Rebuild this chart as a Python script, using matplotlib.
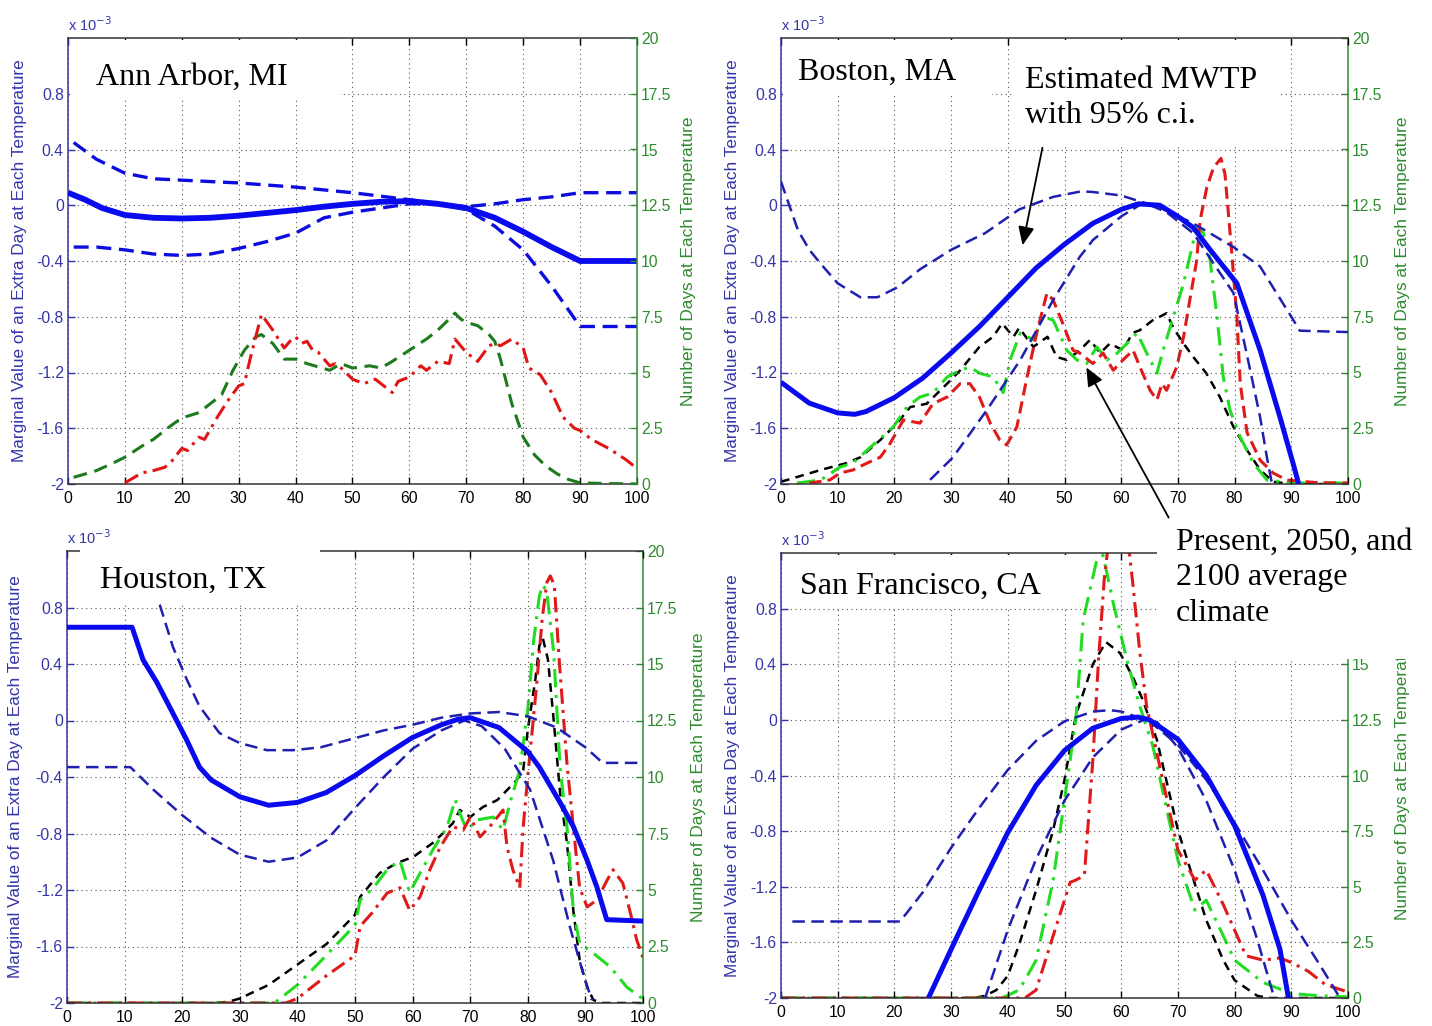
import matplotlib
matplotlib.use("Agg")
import matplotlib.pyplot as plt
from matplotlib.patches import Rectangle, FancyArrowPatch
from matplotlib.transforms import Bbox, TransformedBbox

# ---------------------------------------------------------------- data
# Temperature (F) on the x axis; MWTP in units of 1e-3 on the left axis;
# number of days at each temperature on the right axis.

# Ann Arbor, MI
aa_mw_t = [0, 3, 6, 10, 15, 20, 25, 30, 35, 40, 45, 50, 55, 60, 65, 70, 75, 80, 85, 90, 100]
aa_mw = [0.09, 0.04, -0.02, -0.07, -0.09, -0.095, -0.09, -0.075, -0.055, -0.035, -0.01, 0.01,
         0.025, 0.03, 0.01, -0.02, -0.09, -0.19, -0.30, -0.40, -0.40]
aa_up_t = [1, 5, 10, 15, 20, 30, 40, 50, 60, 65, 70, 75, 80, 85, 90, 100]
aa_up = [0.45, 0.33, 0.23, 0.19, 0.18, 0.16, 0.13, 0.09, 0.04, 0.01, -0.01, 0.01, 0.04, 0.06, 0.09, 0.09]
aa_lo_t = [1, 5, 10, 15, 20, 25, 30, 35, 40, 45, 50, 55, 60, 65, 70, 75, 80, 85, 90, 100]
aa_lo = [-0.30, -0.30, -0.32, -0.35, -0.36, -0.35, -0.31, -0.26, -0.20, -0.09, -0.05, -0.02, 0.01,
         0.01, -0.03, -0.15, -0.32, -0.58, -0.87, -0.87]
aa_green_t = [1, 3, 5, 8, 10, 13, 15, 18, 20, 23, 25, 27, 29, 31, 33, 34, 36, 38, 40, 42, 44, 46,
              48, 50, 53, 55, 57, 60, 63, 65, 67, 68, 69, 70, 72, 74, 75, 76, 78, 80, 82, 84, 86,
              88, 90, 95, 100]
aa_green = [0.3, 0.45, 0.6, 0.95, 1.2, 1.7, 2.0, 2.6, 2.96, 3.2, 3.6, 4.0, 5.1, 6.0, 6.6, 6.7, 6.3,
            5.6, 5.6, 5.4, 5.25, 5.1, 5.4, 5.2, 5.3, 5.2, 5.5, 6.0, 6.5, 6.9, 7.4, 7.66, 7.4, 7.25,
            7.1, 6.7, 6.4, 5.6, 3.6, 2.1, 1.3, 0.8, 0.45, 0.2, 0.05, 0.02, 0.0]
aa_red_t = [10, 11, 13, 15, 17, 18, 20, 21, 23, 24, 26, 28, 30, 31, 32, 34, 36, 38, 39, 40, 41, 42,
            43, 44, 46, 47, 48, 50, 52, 54, 56, 57, 58, 60, 62, 63, 65, 67, 68, 69, 70, 72, 74,
            75, 76, 78, 80, 81, 83, 85, 87, 89, 90, 92, 95, 98, 100]
aa_red = [0.05, 0.2, 0.5, 0.6, 0.75, 0.95, 1.6, 1.5, 2.1, 2.0, 2.9, 3.7, 4.4, 4.5, 5.6, 7.6, 6.9,
          6.1, 6.4, 6.6, 6.3, 6.4, 6.0, 5.9, 5.3, 5.4, 5.2, 4.7, 4.5, 4.7, 4.3, 4.1, 4.6, 4.8, 5.3,
          5.1, 5.5, 5.4, 6.5, 6.2, 5.9, 5.5, 6.2, 6.3, 6.2, 6.5, 6.1, 5.2, 4.9, 4.1, 3.0, 2.5, 2.4,
          2.0, 1.6, 1.1, 0.7]

# Boston, MA
bo_mw_t = [0, 5, 10, 13, 15, 20, 25, 30, 35, 40, 45, 50, 55, 60, 63, 66.8, 70, 72.7, 75.7, 80.4,
           84.5, 88, 90.3, 91.3]
bo_mw = [-1.27, -1.42, -1.49, -1.50, -1.48, -1.38, -1.24, -1.06, -0.87, -0.66, -0.45, -0.28, -0.13,
         -0.03, 0.01, 0.0, -0.08, -0.16, -0.32, -0.56, -1.04, -1.52, -1.85, -2.0]
bo_up_t = [0, 3, 5, 7, 10, 14, 17, 20.5, 24.5, 30, 36, 42, 48, 53, 55, 60, 67, 72.7, 79.8, 84.5,
           90.3, 91.5, 100]
bo_up = [0.17, -0.18, -0.32, -0.42, -0.56, -0.66, -0.66, -0.59, -0.46, -0.32, -0.20, -0.03, 0.06,
         0.10, 0.095, 0.07, -0.02, -0.13, -0.30, -0.44, -0.82, -0.90, -0.91]
bo_lo_t = [26.3, 30.3, 36.3, 42.2, 48, 52.7, 55, 60, 64, 68, 72.7, 79.8, 82, 84.5, 85.7, 86.6]
bo_lo = [-1.97, -1.81, -1.47, -1.11, -0.68, -0.37, -0.25, -0.08, 0.02, -0.05, -0.20, -0.63, -1.04,
         -1.52, -1.81, -2.0]
bo_black_t = [0, 7, 11.6, 14, 17.5, 20.5, 22.8, 25.7, 29.3, 31.6, 35, 37.4, 39, 41, 42, 44.5, 47,
              48.6, 50.4, 52.7, 54.5, 56.3, 58, 60.3, 62, 63.3, 65.6, 66.8, 68, 69.2, 71, 72.7, 75,
              77.4, 79.8, 82.2, 84.5, 86.8, 90, 100]
bo_black = [0.1, 0.63, 0.94, 1.2, 1.97, 2.73, 3.45, 3.6, 4.5, 5.1, 6.15, 6.6, 7.2, 6.6, 7.0, 6.15,
            6.6, 5.7, 5.56, 6.0, 6.46, 5.87, 6.3, 6.0, 6.77, 6.9, 7.35, 7.5, 7.66, 7.0, 6.3, 5.7,
            4.97, 3.9, 2.56, 1.52, 0.63, 0.1, 0.0, 0.0]
bo_green_t = [2.8, 7, 10.4, 12.7, 15.2, 19.8, 22.2, 24.5, 26.8, 29.3, 31.6, 33.3, 35, 37.4, 39.2,
              40.4, 42.2, 44.5, 46.2, 48, 50.4, 52.2, 53.9, 55.7, 57.5, 59.3, 61, 62.8, 64.5, 66.3,
              67.4, 69.2, 71, 72.1, 73.3, 74.5, 75.6, 76.9, 78, 79.2, 81, 83.3, 85.7, 90, 100]
bo_green = [0.04, 0.18, 0.76, 0.94, 1.52, 2.56, 3.45, 3.9, 4.08, 4.8, 5.1, 5.25, 4.97, 4.8, 4.1,
            5.56, 6.77, 6.46, 7.5, 7.35, 6.0, 5.56, 5.4, 6.15, 5.56, 5.87, 6.3, 6.77, 5.87, 4.97,
            6.0, 7.5, 9.0, 10.2, 11.5, 11.25, 10.2, 7.5, 4.8, 3.3, 2.1, 0.94, 0.18, 0.05, 0.05]
bo_red_t = [5, 8.6, 10.4, 12.7, 15.2, 17.5, 19.2, 21.6, 24.5, 26.8, 29.3, 31.6, 33.3, 35, 36.9,
            38.6, 39.8, 41.6, 43.4, 45.1, 46.9, 48, 49.7, 51.5, 52.7, 55, 56.8, 58.6, 60.3, 62.1,
            63.3, 65.1, 66.3, 67.2, 68, 69.8, 71, 72.1, 73.3, 73.9, 75.1, 76.3, 77.6, 78.3, 78.9,
            79.5, 80.4, 81, 82.2, 84.5, 86.8, 89.2, 95, 100]
bo_red = [0.04, 0.18, 0.49, 0.63, 0.94, 1.2, 1.8, 2.87, 2.73, 3.6, 3.9, 4.5, 4.5, 3.9, 2.73, 1.97,
          1.75, 2.56, 4.8, 6.77, 8.56, 8.25, 7.2, 6.0, 5.87, 5.4, 5.87, 5.1, 5.56, 6.0, 5.25, 4.2,
          3.77, 4.5, 4.2, 5.25, 6.6, 8.25, 10.0, 11.8, 13.3, 14.2, 14.6, 13.9, 12.15, 10.36, 7.5,
          4.5, 2.3, 1.07, 0.49, 0.18, 0.05, 0.05]

# Houston, TX
ho_mw_t = [0, 11.3, 13.2, 15.6, 18.4, 20.8, 23, 25, 30, 35, 40, 45, 50, 55, 60, 65, 68, 70, 75,
           80, 82, 85.6, 87.9, 90.3, 92, 93.7, 100]
ho_mw = [0.66, 0.66, 0.43, 0.27, 0.05, -0.14, -0.33, -0.42, -0.54, -0.60, -0.58, -0.51, -0.39,
         -0.25, -0.12, -0.03, 0.01, 0.02, -0.05, -0.22, -0.33, -0.58, -0.75, -0.99, -1.18, -1.41,
         -1.42]
ho_up_t = [16.1, 18.4, 20.8, 23, 26.5, 30, 34.7, 39.3, 44, 48.6, 55, 60, 65, 70, 75, 80, 85, 90,
           93, 100]
ho_up = [0.82, 0.52, 0.29, 0.10, -0.09, -0.16, -0.21, -0.21, -0.19, -0.14, -0.07, -0.03, 0.02,
         0.05, 0.06, 0.03, -0.05, -0.19, -0.30, -0.30]
ho_lo_t = [0, 11, 15, 20, 25, 30, 35, 40, 45, 50, 55, 60, 65, 69, 72, 76, 80.4, 84.4, 87.3, 89.6,
           91.1]
ho_lo = [-0.33, -0.33, -0.49, -0.67, -0.83, -0.95, -1.0, -0.97, -0.85, -0.62, -0.40, -0.20, -0.07,
         0.0, -0.04, -0.20, -0.49, -0.99, -1.46, -1.79, -1.98]
ho_black_t = [0, 25, 28, 30, 35, 40, 45, 50, 50.9, 54.3, 57.3, 60.1, 63.5, 65.3, 67, 68.2, 70,
              72.2, 74.7, 76.4, 78.1, 79.2, 80, 81.3, 82, 82.6, 83.5, 84.5, 85.6, 86.8, 87.9, 89,
              90.3, 91.4, 93, 100]
ho_black = [0, 0, 0.05, 0.2, 0.8, 1.7, 2.6, 3.9, 4.7, 5.75, 6.2, 6.46, 7.08, 7.52, 7.96, 8.54,
            8.23, 8.67, 8.98, 9.42, 9.87, 10.3, 12.1, 14.3, 15.8, 16.15, 15.2, 12.5, 9.3, 7.08,
            4.1, 1.9, 0.7, 0.13, 0, 0]
ho_green_t = [0, 36, 40, 45, 50, 50.9, 53.2, 55.6, 57.8, 59.5, 61.3, 63.5, 66, 67.4, 68.2, 69.4,
              71.2, 74, 75.7, 76.9, 78.6, 80, 81, 82, 82.6, 83.3, 84.5, 85.6, 86.8, 87.9, 89, 91.4,
              94.3, 97.2, 99.5, 100]
ho_green = [0, 0, 0.8, 2.1, 3.45, 4.56, 5.1, 5.9, 6.3, 4.9, 5.75, 6.77, 7.8, 9.0, 8.4, 7.65, 8.1,
            8.23, 7.65, 8.85, 10.3, 13.0, 16.0, 18.0, 18.5, 18.2, 15.5, 10.4, 7.8, 4.1, 2.65, 2.2,
            1.6, 0.7, 0.27, 0.2]
ho_red_t = [0, 38, 40, 45, 50, 50.9, 53, 55.6, 57.8, 59.5, 61.3, 63, 64.8, 67, 68.8, 70, 71.7,
            73.4, 75.7, 76.4, 77.4, 78.6, 79.2, 80.1, 81.5, 82.5, 83.3, 83.9, 84.6, 85.5, 86.8,
            87.9, 89, 90.3, 92, 93.7, 94.8, 96.5, 97.7, 98.9, 100]
ho_red = [0, 0, 0.2, 1.2, 2.1, 3.4, 4.0, 4.87, 5.1, 4.1, 4.7, 5.9, 6.9, 7.8, 7.65, 8.23, 7.35, 7.8,
          8.54, 6.9, 5.9, 5.1, 7.8, 10.3, 14.0, 17.0, 18.6, 18.9, 18.5, 15.0, 10.6, 7.8, 5.1,
          4.25, 4.56, 5.4, 5.9, 5.3, 4.1, 2.8, 2.0]

# San Francisco, CA
sf_mw_t = [26, 30, 35, 40, 45, 50, 55, 60, 63, 65, 70, 75, 80, 85, 88, 89.5]
sf_mw = [-2.0, -1.65, -1.22, -0.81, -0.47, -0.22, -0.06, 0.01, 0.02, 0.0, -0.14, -0.40, -0.76,
         -1.26, -1.65, -2.0]
sf_up_t = [2, 21, 25, 30, 35, 40, 45, 50, 55, 58, 60, 65, 70, 75, 80, 85, 90, 95, 98.6]
sf_up = [-1.45, -1.45, -1.24, -0.92, -0.63, -0.36, -0.15, -0.01, 0.06, 0.07, 0.06, -0.01, -0.18,
         -0.43, -0.74, -1.08, -1.44, -1.76, -2.0]
sf_lo_t = [36, 40, 45, 50, 55, 60, 64, 66, 70, 75, 80, 84, 87]
sf_lo = [-2.0, -1.51, -1.0, -0.58, -0.27, -0.07, 0.0, 0.0, -0.20, -0.58, -1.08, -1.58, -2.0]
sf_black_t = [0, 34, 36, 38, 40, 42, 45, 48, 50, 52, 55, 57.3, 59.8, 62.1, 63.8, 66.3, 70, 75, 78,
              80, 84, 86, 100]
sf_black = [0, 0, 0.1, 0.36, 1.0, 2.4, 4.85, 7.55, 9.8, 12.7, 15.0, 16.0, 15.5, 14.4, 13.4, 11.6,
            7.55, 3.5, 1.7, 0.8, 0.1, 0, 0]
sf_green_t = [0, 39, 42, 45, 48, 50, 52, 53.3, 55.7, 56.8, 58.6, 61, 63.3, 65.6, 70, 73, 75, 78,
              80, 85, 90, 95, 100]
sf_green = [0, 0, 0.36, 1.7, 5.3, 8.9, 12.5, 17.0, 19.7, 19.9, 17.75, 15.2, 13.1, 11.3, 6.2, 3.95,
            4.4, 2.8, 1.7, 0.7, 0.2, 0.1, 0.05]
sf_red_t = [0, 43, 45, 48, 50, 51, 52, 53.5, 55, 56, 57, 58, 59, 60, 61, 62.1, 63.3, 64.5, 66.3,
            70, 73, 75, 78, 80, 82, 85, 88, 90, 93, 96, 100]
sf_red = [0, 0, 0.36, 2.8, 4.4, 5.2, 5.3, 5.5, 10.7, 15.2, 18.8, 21, 22, 22, 21, 18.5, 15.5, 13.1,
          11.0, 6.65, 5.3, 5.75, 4.2, 3.05, 1.9, 1.7, 1.8, 1.6, 1.2, 0.6, 0.27]

x_ticks = list(range(0, 101, 10))
left_ticks = [-2, -1.6, -1.2, -0.8, -0.4, 0, 0.4, 0.8]
left_labels = ["-2", "-1.6", "-1.2", "-0.8", "-0.4", "0", "0.4", "0.8"]
right_ticks = [0, 2.5, 5, 7.5, 10, 12.5, 15, 17.5, 20]
right_labels = ["0", "2.5", "5", "7.5", "10", "12.5", "15", "17.5", "20"]

# ---------------------------------------------------------------- style
W, H = 1432, 1026
BLUE_TXT = "#3535a8"
GREEN_TXT = "#2e8b2e"
MW_BLUE = "#0a0aee"
CI_BLUE = "#1f1fb0"
SANS = "Liberation Sans"
SERIF = "Liberation Serif"
TICK_FS = 11.3
LAB_FS = 12.4

fig = plt.figure(figsize=(W / 100, H / 100), dpi=100)


def frac_rect(l, t, r, b):
    return [l / W, 1 - b / H, (r - l) / W, (b - t) / H]


def fxy(x, y):
    return (x / W, 1 - y / H)


def make_panel(box, ylab_x, rlab_x, n_right_labels=9, rlab_clip_y=None):
    l, t, r, b = box
    ax = fig.add_axes(frac_rect(l, t, r, b))
    ax.set_xlim(0, 100)
    ax.set_ylim(-2, 1.2)
    ax.set_xticks(x_ticks)
    ax.set_xticklabels([str(v) for v in x_ticks], fontsize=TICK_FS, family=SANS, color="black")
    ax.set_yticks(left_ticks)
    ax.set_yticklabels(left_labels, fontsize=TICK_FS, family=SANS, color=BLUE_TXT)
    ax.grid(True, linestyle=(0, (1, 3.2)), color="#555555", lw=0.8)
    ax.tick_params(axis="x", direction="in", top=True, length=5, width=1, pad=5)
    ax.tick_params(axis="y", direction="in", length=5, width=1, colors=BLUE_TXT, pad=3)
    ax.spines["left"].set_color(BLUE_TXT)
    ax.spines["right"].set_visible(False)
    for s in ("top", "bottom"):
        ax.spines[s].set_color("#333333")
    for s in ax.spines.values():
        s.set_linewidth(1.1)

    ax2 = ax.twinx()
    ax2.set_ylim(0, 20)
    ax2.set_yticks(right_ticks)
    shown = [lab if i < n_right_labels else "" for i, lab in enumerate(right_labels)]
    ax2.set_yticklabels(shown, fontsize=TICK_FS, family=SANS, color=GREEN_TXT)
    ax2.tick_params(axis="y", direction="in", length=5, width=1, colors=GREEN_TXT, pad=3)
    for s in ("left", "top", "bottom"):
        ax2.spines[s].set_visible(False)
    ax2.spines["right"].set_color(GREEN_TXT)
    ax2.spines["right"].set_linewidth(1.1)

    cy = (t + b) / 2
    fig.text(*fxy(ylab_x, cy), "Marginal Value of an Extra Day at Each Temperature",
             rotation=90, ha="center", va="center", fontsize=LAB_FS, family=SANS, color=BLUE_TXT)
    rl = fig.text(*fxy(rlab_x, cy), "Number of Days at Each Temperature",
                  rotation=90, ha="center", va="center", fontsize=LAB_FS, family=SANS,
                  color=GREEN_TXT)
    if rlab_clip_y is not None:
        clip = Bbox.from_extents(0, 0, 1, 1 - rlab_clip_y / H)
        rl.set_clip_box(TransformedBbox(clip, fig.transFigure))
        rl.set_clip_on(True)
    fig.text(*fxy(l, t - 13), r"x 10$^{-3}$", ha="left", va="center", fontsize=10.5,
             family=SANS, color=BLUE_TXT)
    return ax, ax2


def mwtp(ax, mt, mv, ut, uv, lt, lv, lw_m=3.6, lw_ci=1.8, ci_col=CI_BLUE, dash=(5, 2.6)):
    ax.plot(ut, uv, color=ci_col, lw=lw_ci, dashes=dash, zorder=3)
    ax.plot(lt, lv, color=ci_col, lw=lw_ci, dashes=dash, zorder=3)
    ax.plot(mt, mv, color=MW_BLUE, lw=lw_m, solid_capstyle="butt", zorder=4)


DASH_K = (3.5, 2.5)
DASH_G = (6, 2.5, 1, 2.5)
DASH_R = (5, 2, 1, 2)

# Ann Arbor
ax, ax2 = make_panel((68, 38, 637, 484), 20, 689)
mwtp(ax, aa_mw_t, aa_mw, aa_up_t, aa_up, aa_lo_t, aa_lo, lw_m=4.2, lw_ci=2.4, ci_col="#0c0ce0",
     dash=(4.5, 2.3))
ax2.plot(aa_green_t, aa_green, color="#1d7a1d", lw=2.2, dashes=(4.5, 2.5))
ax2.plot(aa_red_t, aa_red, color="#e01515", lw=2.2, dashes=DASH_R)

# Boston
ax, ax2 = make_panel((781, 38, 1348, 484), 733, 1402)
ax2.plot(bo_black_t, bo_black, color="black", lw=1.8, dashes=DASH_K)
ax2.plot(bo_green_t, bo_green, color="#22dd22", lw=2.2, dashes=DASH_G)
ax2.plot(bo_red_t, bo_red, color="#e01a1a", lw=2.2, dashes=(4, 2))
mwtp(ax, bo_mw_t, bo_mw, bo_up_t, bo_up, bo_lo_t, bo_lo)
ax.set_zorder(ax2.get_zorder() + 1)
ax.patch.set_visible(False)

# Houston
ax, ax2 = make_panel((67, 551, 643, 1003), 16, 699)
ax2.plot(ho_black_t, ho_black, color="black", lw=1.8, dashes=DASH_K)
ax2.plot(ho_green_t, ho_green, color="#22dd22", lw=2.2, dashes=DASH_G)
ax2.plot(ho_red_t, ho_red, color="#e01a1a", lw=2.2, dashes=DASH_R)
mwtp(ax, ho_mw_t, ho_mw, ho_up_t, ho_up, ho_lo_t, ho_lo)
ax.set_zorder(ax2.get_zorder() + 1)
ax.patch.set_visible(False)

# San Francisco (upper right corner hidden behind the annotation)
ax, ax2 = make_panel((781, 553, 1348, 998), 733, 1402, n_right_labels=7, rlab_clip_y=659)
ax2.plot(sf_black_t, sf_black, color="black", lw=1.8, dashes=DASH_K)
ax2.plot(sf_green_t, sf_green, color="#22dd22", lw=2.2, dashes=DASH_G)
ax2.plot(sf_red_t, sf_red, color="#e01a1a", lw=2.2, dashes=DASH_R)
mwtp(ax, sf_mw_t, sf_mw, sf_up_t, sf_up, sf_lo_t, sf_lo)
ax.set_zorder(ax2.get_zorder() + 1)
ax.patch.set_visible(False)

# ---------------------------------------------------------------- text boxes
def white_box(l, t, r, b):
    fig.add_artist(Rectangle(fxy(l, b), (r - l) / W, (b - t) / H, transform=fig.transFigure,
                             facecolor="white", edgecolor="none", zorder=10))


white_box(70, 40, 340, 100)
white_box(783, 40, 992, 96)
white_box(1012, 40, 1278, 146)
white_box(80, 545, 320, 603)
white_box(785, 555, 1070, 607)
white_box(1157, 515, 1432, 659)

TXT = dict(family=SERIF, fontsize=23, color="black", va="center", ha="left", zorder=11)
fig.text(*fxy(96, 77), "Ann Arbor, MI", **TXT)
fig.text(*fxy(798, 72), "Boston, MA", **TXT)
fig.text(*fxy(100, 580), "Houston, TX", **TXT)
fig.text(*fxy(800, 586), "San Francisco, CA", **TXT)
fig.text(*fxy(1025, 98), "Estimated MWTP\nwith 95% c.i.", linespacing=1.3, **TXT)
fig.text(*fxy(1176, 578), "Present, 2050, and\n2100 average\nclimate", linespacing=1.3, **TXT)

for tail, head in (((1043, 145), (1022, 248)), ((1170, 520), (1085, 365))):
    fig.add_artist(FancyArrowPatch(fxy(*tail), fxy(*head), transform=fig.transFigure,
                                   arrowstyle="-|>,head_length=0.8,head_width=0.35",
                                   mutation_scale=14, lw=1.3, color="black", zorder=12))

fig.savefig("out.png", dpi=100, facecolor="white")
